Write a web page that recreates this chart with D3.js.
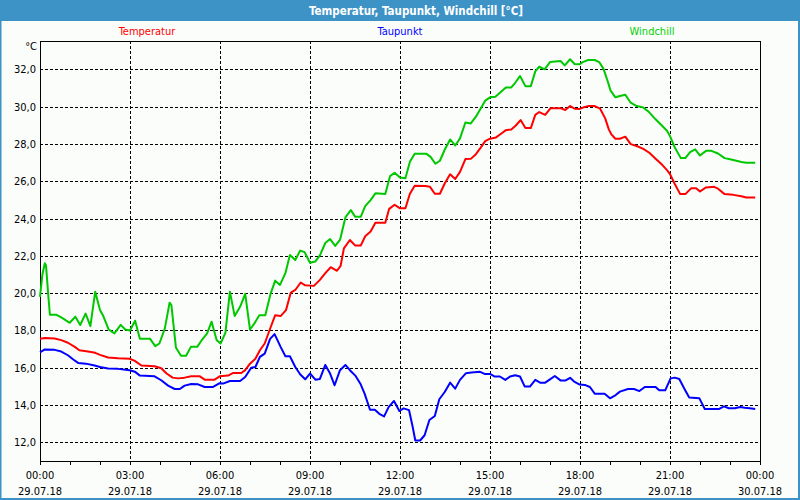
<!DOCTYPE html>
<html><head><meta charset="utf-8">
<script src="https://cdn.jsdelivr.net/npm/d3@7"></script>
<style>
html,body{margin:0;padding:0;background:#fff;}
svg{display:block;}
text{font-family:"DejaVu Sans Condensed","DejaVu Sans",sans-serif;}
</style></head>
<body>
<svg id="chart" width="800" height="500"></svg>
<script>
const chartTitle = "Temperatur, Taupunkt, Windchill [°C]";
const seriesNames = ["Temperatur", "Taupunkt", "Windchill"];
const unitLabel = "°C";
const yTicks = [12, 14, 16, 18, 20, 22, 24, 26, 28, 30, 32];
const xTickHours = [0, 3, 6, 9, 12, 15, 18, 21, 24];
const timeLabels = ["00:00","03:00","06:00","09:00","12:00","15:00","18:00","21:00","00:00"];
const dateLabels = ["29.07.18","29.07.18","29.07.18","29.07.18","29.07.18","29.07.18","29.07.18","29.07.18","30.07.18"];
const minorTickHours = [0,1,2,3,4,5,6,7,8,9,10,11,12,13,14,15,16,17,18,19,20,21,22,23,24];

// [hour, °C]
const temperatur = [
[0,17.55],[0.16,17.6],[0.49,17.57],[0.71,17.48],[0.93,17.34],[1.16,17.12],[1.31,16.94],[1.6,16.87],[1.84,16.8],[2.0,16.69],
[2.27,16.55],[2.6,16.51],[2.99,16.48],[3.16,16.37],[3.38,16.12],[3.82,16.08],[4.04,15.97],[4.22,15.69],[4.42,15.47],[4.6,15.43],
[4.82,15.47],[5.04,15.54],[5.33,15.54],[5.49,15.36],[5.82,15.36],[5.99,15.54],[6.27,15.58],[6.44,15.72],[6.71,15.72],[6.84,15.87],
[7.0,16.22],[7.18,16.48],[7.33,16.94],[7.49,17.3],[7.67,18.09],[7.84,18.82],[8.02,18.77],[8.2,19.09],[8.36,20.03],[8.51,20.17],
[8.69,20.57],[8.84,20.42],[9.13,20.39],[9.33,20.71],[9.51,21.07],[9.69,21.39],[9.9,21.2],[10.02,21.46],[10.13,22.4],[10.33,22.85],
[10.51,22.55],[10.69,22.55],[10.84,23.05],[11.02,23.3],[11.18,23.77],[11.51,23.77],[11.64,24.52],[11.82,24.74],[12.0,24.55],[12.18,24.55],
[12.33,25.33],[12.49,25.76],[12.84,25.75],[13.0,25.7],[13.16,25.33],[13.33,25.33],[13.49,25.88],[13.67,26.37],[13.84,26.12],[14.0,26.5],
[14.18,27.19],[14.36,27.2],[14.53,27.45],[14.69,27.8],[14.84,28.15],[15.0,28.28],[15.2,28.35],[15.38,28.56],[15.53,28.74],[15.71,28.78],
[15.86,28.99],[16.02,29.28],[16.18,28.85],[16.36,28.85],[16.51,29.56],[16.64,29.71],[16.84,29.56],[17.02,29.92],[17.35,29.92],[17.51,29.82],
[17.67,30.03],[17.82,29.89],[17.99,29.88],[18.1,29.95],[18.27,30.03],[18.49,30.03],[18.67,29.89],[18.84,29.37],[18.96,28.78],[19.04,28.53],
[19.18,28.28],[19.33,28.28],[19.51,28.39],[19.69,27.99],[19.89,27.89],[20.11,27.74],[20.31,27.53],[20.52,27.21],[20.74,26.88],[20.9,26.6],
[21.0,26.38],[21.16,25.85],[21.34,25.31],[21.51,25.31],[21.71,25.63],[21.87,25.63],[22.0,25.45],[22.2,25.67],[22.47,25.7],[22.6,25.6],
[22.82,25.31],[23.11,25.27],[23.38,25.2],[23.54,25.13],[23.84,25.13]
];
const taupunkt = [
[0,16.83],[0.16,16.98],[0.49,16.96],[0.71,16.87],[0.93,16.67],[1.11,16.44],[1.27,16.26],[1.53,16.22],[1.82,16.12],[2.0,16.04],
[2.27,15.96],[2.6,15.94],[2.99,15.87],[3.16,15.79],[3.33,15.58],[3.82,15.54],[4.04,15.33],[4.27,15.04],[4.49,14.86],[4.66,14.86],
[4.82,15.04],[5.04,15.13],[5.27,15.11],[5.49,14.97],[5.77,14.97],[5.99,15.17],[6.1,15.15],[6.33,15.29],[6.67,15.29],[6.84,15.5],
[7.04,16.0],[7.18,16.04],[7.33,16.58],[7.49,16.76],[7.67,17.55],[7.82,17.8],[8.02,17.12],[8.18,16.62],[8.33,16.62],[8.51,16.04],
[8.67,15.65],[8.84,15.38],[9.0,15.69],[9.18,15.36],[9.33,15.4],[9.51,16.15],[9.67,15.69],[9.82,15.06],[10.0,15.87],[10.18,16.15],
[10.33,15.87],[10.51,15.58],[10.69,15.11],[10.82,14.61],[11.0,13.75],[11.16,13.75],[11.31,13.53],[11.47,13.39],[11.62,13.89],[11.8,14.22],
[11.98,13.68],[12.12,13.82],[12.3,13.73],[12.42,12.85],[12.51,12.1],[12.67,12.1],[12.82,12.38],[12.98,13.2],[13.16,13.41],[13.31,14.31],
[13.49,14.7],[13.67,15.2],[13.84,14.88],[14.0,15.35],[14.2,15.71],[14.38,15.74],[14.67,15.78],[14.82,15.67],[15.0,15.67],[15.16,15.53],
[15.33,15.53],[15.51,15.35],[15.67,15.53],[15.84,15.6],[16.0,15.53],[16.16,14.99],[16.33,14.99],[16.51,15.35],[16.67,15.2],[16.84,15.2],
[17.0,15.38],[17.16,15.56],[17.36,15.31],[17.51,15.31],[17.67,15.46],[17.82,15.24],[17.99,15.1],[18.16,15.08],[18.33,14.97],[18.49,14.61],
[18.82,14.61],[19.0,14.36],[19.16,14.5],[19.33,14.72],[19.6,14.86],[19.8,14.86],[19.98,14.75],[20.16,14.97],[20.52,14.97],[20.64,14.79],
[20.84,14.79],[21.02,15.43],[21.16,15.47],[21.31,15.4],[21.47,14.9],[21.64,14.4],[21.98,14.36],[22.16,13.79],[22.64,13.79],[22.8,13.93],
[22.96,13.83],[23.16,13.83],[23.34,13.9],[23.49,13.86],[23.66,13.83],[23.84,13.79]
];
const windchill = [
[0,19.8],[0.08,21.0],[0.16,21.6],[0.2,21.5],[0.27,20.0],[0.33,18.84],[0.55,18.84],[0.71,18.7],[0.99,18.41],[1.18,18.74],
[1.34,18.29],[1.52,18.9],[1.68,18.23],[1.84,20.08],[2.0,19.1],[2.11,18.77],[2.29,18.05],[2.48,17.84],[2.69,18.3],[2.84,18.05],
[3.0,18.0],[3.17,18.52],[3.33,17.55],[3.67,17.55],[3.84,17.16],[3.98,17.3],[4.16,18.1],[4.32,19.49],[4.38,19.36],[4.53,17.09],
[4.7,16.64],[4.87,16.64],[5.03,17.12],[5.24,17.12],[5.4,17.5],[5.57,17.84],[5.72,18.47],[5.89,17.48],[6.02,17.3],[6.18,17.87],
[6.33,20.08],[6.49,18.77],[6.67,19.27],[6.84,19.96],[7.0,18.05],[7.16,18.41],[7.31,18.82],[7.51,18.82],[7.69,19.99],[7.84,20.67],
[8.0,20.44],[8.18,21.07],[8.33,22.05],[8.51,21.78],[8.67,22.28],[8.82,22.2],[9.0,21.63],[9.18,21.7],[9.33,22.03],[9.51,22.69],
[9.67,22.9],[9.84,22.53],[10.0,22.85],[10.18,24.06],[10.36,24.45],[10.51,24.09],[10.69,24.09],[10.84,24.67],[11.02,24.99],[11.18,25.35],
[11.51,25.31],[11.67,26.28],[11.82,26.45],[12.0,26.2],[12.18,26.16],[12.33,27.04],[12.49,27.48],[12.87,27.48],[13.02,27.31],[13.18,26.94],
[13.33,27.1],[13.49,27.69],[13.67,28.24],[13.84,27.92],[14.0,28.3],[14.18,29.15],[14.36,29.1],[14.53,29.46],[14.69,29.9],[14.84,30.32],
[15.0,30.5],[15.18,30.53],[15.33,30.75],[15.53,31.03],[15.71,31.03],[15.84,31.28],[16.0,31.64],[16.18,31.1],[16.36,31.1],[16.51,31.89],
[16.64,32.14],[16.82,32.0],[17.0,32.39],[17.35,32.45],[17.49,32.21],[17.67,32.54],[17.82,32.29],[17.99,32.27],[18.09,32.39],[18.27,32.5],
[18.49,32.5],[18.64,32.39],[18.78,32.04],[18.91,31.43],[19.02,30.86],[19.18,30.5],[19.33,30.57],[19.51,30.64],[19.69,30.21],[19.89,30.03],
[20.1,29.96],[20.3,29.71],[20.52,29.32],[20.72,29.0],[20.9,28.71],[21.0,28.42],[21.16,27.81],[21.36,27.24],[21.51,27.24],[21.67,27.56],
[21.84,27.71],[22.0,27.38],[22.2,27.63],[22.38,27.63],[22.6,27.49],[22.82,27.24],[23.04,27.17],[23.38,27.03],[23.54,26.99],[23.84,26.99]
];
const seriesColors = ["#ff0000", "#0000ff", "#00c800"];
const legendColors = ["#ff0000", "#0000ff", "#00d000"];

const svg = d3.select("#chart");
const W = 800, H = 500;
const plot = {left: 40, right: 760, top: 41, bottom: 461};

// background + frame
svg.append("rect").attr("x",0).attr("y",0).attr("width",W).attr("height",H).attr("fill","#fbfdfb");
svg.append("rect").attr("x",0).attr("y",0).attr("width",W).attr("height",21).attr("fill","#3d93c6");
svg.append("rect").attr("x",0.5).attr("y",0.5).attr("width",W-1.5).attr("height",H-1.5)
  .attr("fill","none").attr("stroke","#3d93c6").attr("stroke-width",2);
svg.append("text").attr("x",416).attr("y",15).attr("text-anchor","middle")
  .attr("fill","#ffffff").attr("font-weight","bold").attr("font-size","11.5px").text(chartTitle);

const x = d3.scaleLinear().domain([0, 24]).range([plot.left, plot.right]);
const y = d3.scaleLinear().domain([11, 33.52]).range([plot.bottom, plot.top]);

// grid
const grid = svg.append("g").attr("shape-rendering","crispEdges");
grid.selectAll("line.hg").data(yTicks).enter().append("line")
  .attr("x1",plot.left).attr("x2",plot.right)
  .attr("y1",d=>Math.round(y(d))+0.5).attr("y2",d=>Math.round(y(d))+0.5)
  .attr("stroke","#000").attr("stroke-dasharray","3,2");
grid.selectAll("line.vg").data(xTickHours.slice(1,-1)).enter().append("line")
  .attr("x1",d=>Math.round(x(d))+0.5).attr("x2",d=>Math.round(x(d))+0.5)
  .attr("y1",plot.top).attr("y2",plot.bottom)
  .attr("stroke","#000").attr("stroke-dasharray","3,2");

// frame
svg.append("rect").attr("x",plot.left+0.5).attr("y",plot.top+0.5)
  .attr("width",plot.right-plot.left).attr("height",plot.bottom-plot.top)
  .attr("fill","none").attr("stroke","#000").attr("stroke-width",1).attr("shape-rendering","crispEdges");

// y axis labels
const yAxis = d3.axisLeft(y).tickValues(yTicks).tickSize(0).tickPadding(4)
  .tickFormat(d => d3.format(".1f")(d).replace(".", ","));
const gy = svg.append("g").attr("transform",`translate(${plot.left},0)`).call(yAxis);
gy.select(".domain").remove();
gy.selectAll("text").attr("font-family","'DejaVu Sans Condensed','DejaVu Sans',sans-serif")
  .attr("font-size","11px").attr("fill","#000");

svg.append("text").attr("x",37).attr("y",50).attr("text-anchor","end")
  .attr("font-size","11px").attr("fill","#000").text(unitLabel);

// x axis ticks + labels
const xAxis = d3.axisBottom(x).tickValues(minorTickHours).tickSize(4).tickFormat("");
const gx = svg.append("g").attr("transform",`translate(0,${plot.bottom})`).call(xAxis);
gx.select(".domain").remove();
gx.selectAll("line").attr("stroke","#000").attr("shape-rendering","crispEdges");
const lbl = svg.append("g");
lbl.selectAll("text.t").data(xTickHours).enter().append("text")
  .attr("x",d=>x(d)).attr("y",479).attr("text-anchor","middle")
  .attr("font-size","11px").attr("fill","#000").text((d,i)=>timeLabels[i]);
lbl.selectAll("text.d").data(xTickHours).enter().append("text")
  .attr("x",d=>x(d)).attr("y",495).attr("text-anchor","middle")
  .attr("font-size","11px").attr("fill","#000").text((d,i)=>dateLabels[i]);

// legend
const legendX = [147, 400, 652];
seriesNames.forEach((n,i)=>{
  svg.append("text").attr("x",legendX[i]).attr("y",35).attr("text-anchor","middle")
    .attr("font-size","11px").attr("fill",legendColors[i]).text(n);
});

// lines
const line = d3.line().x(d=>x(d[0])).y(d=>y(d[1]));
[temperatur, taupunkt, windchill].forEach((s,i)=>{
  svg.append("path").datum(s).attr("d",line).attr("fill","none")
    .attr("stroke",seriesColors[i]).attr("stroke-width",2).attr("stroke-linejoin","round");
});
</script>
</body></html>
